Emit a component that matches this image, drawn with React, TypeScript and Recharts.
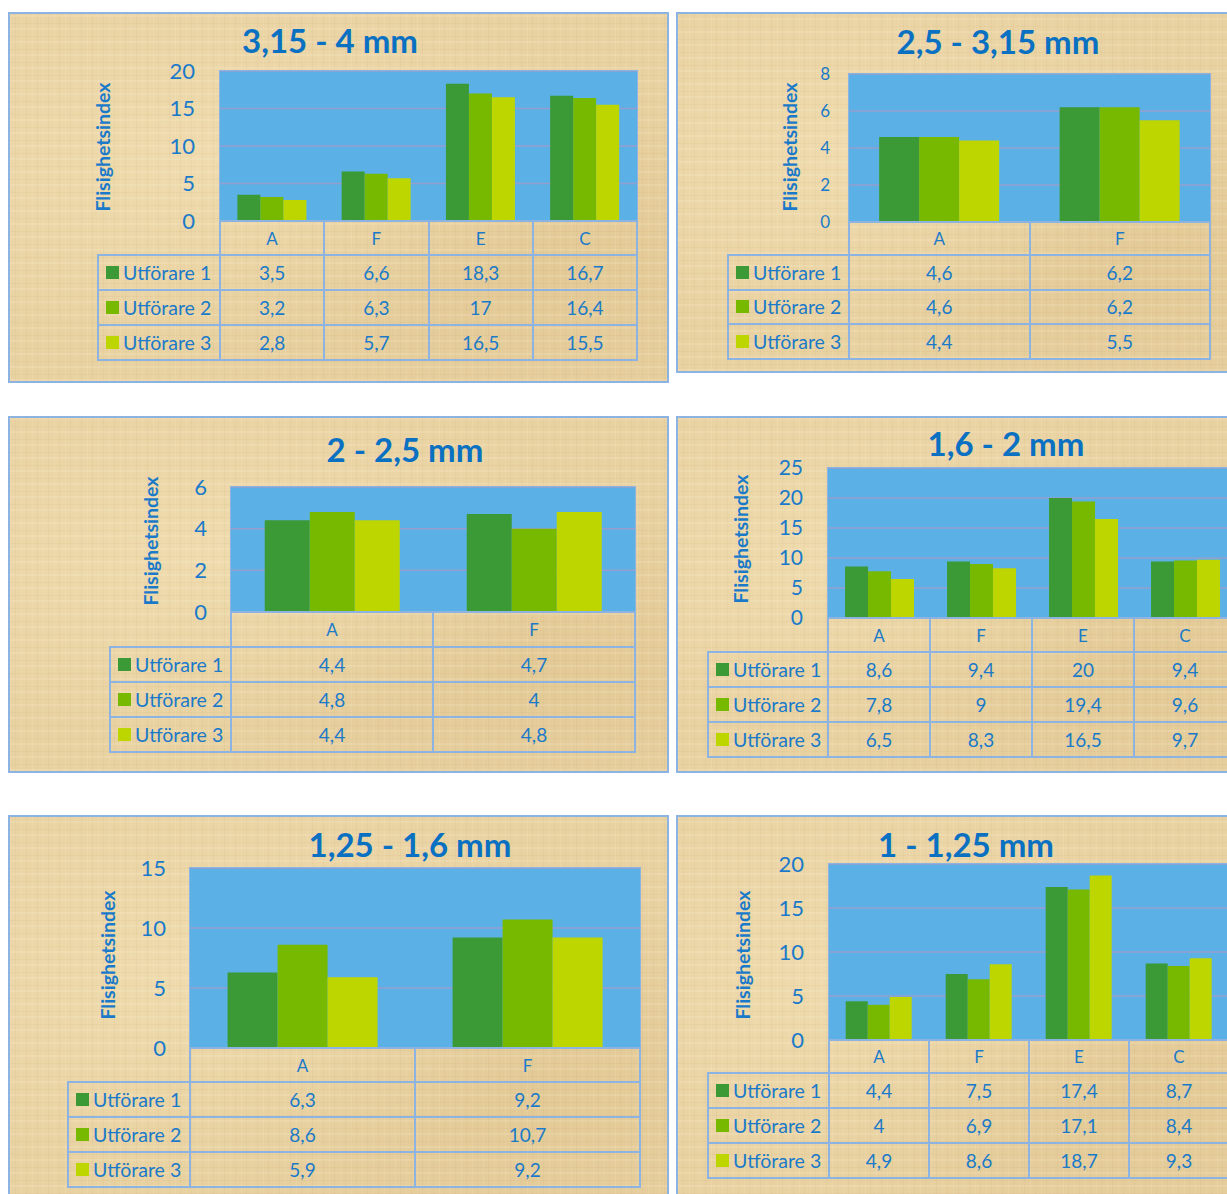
import React from "react";
import { BarChart, Bar, XAxis, YAxis, CartesianGrid } from "recharts";

// --- data -------------------------------------------------------------
const SERIES = ["Utförare 1", "Utförare 2", "Utförare 3"];

const cats1 = ["A", "F", "E", "C"];
const p1u1 = [3.5, 6.6, 18.3, 16.7];
const p1u2 = [3.2, 6.3, 17, 16.4];
const p1u3 = [2.8, 5.7, 16.5, 15.5];

const cats2 = ["A", "F"];
const p2u1 = [4.6, 6.2];
const p2u2 = [4.6, 6.2];
const p2u3 = [4.4, 5.5];

const cats3 = ["A", "F"];
const p3u1 = [4.4, 4.7];
const p3u2 = [4.8, 4];
const p3u3 = [4.4, 4.8];

const cats4 = ["A", "F", "E", "C"];
const p4u1 = [8.6, 9.4, 20, 9.4];
const p4u2 = [7.8, 9, 19.4, 9.6];
const p4u3 = [6.5, 8.3, 16.5, 9.7];

const cats5 = ["A", "F"];
const p5u1 = [6.3, 9.2];
const p5u2 = [8.6, 10.7];
const p5u3 = [5.9, 9.2];

const cats6 = ["A", "F", "E", "C"];
const p6u1 = [4.4, 7.5, 17.4, 8.7];
const p6u2 = [4, 6.9, 17.1, 8.4];
const p6u3 = [4.9, 8.6, 18.7, 9.3];

const ticks1 = [0, 5, 10, 15, 20];
const ticks2 = [0, 2, 4, 6, 8];
const ticks3 = [0, 2, 4, 6];
const ticks4 = [0, 5, 10, 15, 20, 25];
const ticks5 = [0, 5, 10, 15];
const ticks6 = [0, 5, 10, 15, 20];

// --- style ------------------------------------------------------------
const COLORS = ["#3b9a35", "#76b900", "#bed600"];
const PLOT_BG = "#5bb1e6";
const GRIDLINE = "#949fcf";
const BORDER = "#8db3e2";
const TEXT = "#1a7ac9";
const TITLE = "#0a70c2";
const FONT = "Lato, 'Open Sans', sans-serif";

const PAPER: React.CSSProperties = {
  backgroundColor: "#e9d2a2",
  backgroundImage: [
    "repeating-linear-gradient(0deg, rgba(255,248,225,0.14) 0 2px, transparent 2px 6px, rgba(150,110,50,0.05) 6px 7px, transparent 7px 13px)",
    "repeating-linear-gradient(90deg, rgba(255,248,225,0.1) 0 1px, transparent 1px 5px, rgba(150,110,50,0.05) 5px 6px, transparent 6px 11px)",
    "radial-gradient(ellipse at 30% 40%, rgba(245,228,185,0.5), transparent 60%)",
    "radial-gradient(ellipse at 80% 70%, rgba(210,180,120,0.3), transparent 55%)",
  ].join(","),
};

const fmt = (v: number) => String(v).replace(".", ",");

type Rect = { x: number; y: number; w: number; h: number };

interface PanelProps {
  frame: Rect;
  title: string;
  titleX: number;
  titleY: number;
  plot: Rect;
  tickFs: number;
  tickGap: number;
  ticks: number[];
  labelX: number;
  labelY: number;
  legX: number;
  headH: number;
  rowH: number;
  cats: string[];
  u1: number[];
  u2: number[];
  u3: number[];
}

function Panel(p: PanelProps) {
  const data = p.cats.map((c, i) => ({ cat: c, u1: p.u1[i], u2: p.u2[i], u3: p.u3[i] }));
  const yw = 60;
  const mt = 14;
  const mb = 14;
  const colW = p.plot.w / p.cats.length;
  const rows = [p.u1, p.u2, p.u3];
  const tableTop = p.plot.y + p.plot.h;

  const cellStyle = (l: number, t: number, w: number, h: number): React.CSSProperties => ({
    position: "absolute",
    left: l - 1,
    top: t - 1,
    width: w + 2,
    height: h + 2,
    border: `2px solid ${BORDER}`,
    boxSizing: "border-box",
    display: "flex",
    alignItems: "center",
    color: TEXT,
    fontFamily: FONT,
  });

  return (
    <>
      <div
        style={{
          position: "absolute",
          left: p.frame.x,
          top: p.frame.y,
          width: p.frame.w,
          height: p.frame.h,
          border: `2px solid ${BORDER}`,
          boxSizing: "border-box",
          ...PAPER,
        }}
      />
      <div
        style={{
          position: "absolute",
          left: p.titleX,
          top: p.titleY - 2,
          transform: "translate(-50%, -50%)",
          color: TITLE,
          fontFamily: FONT,
          fontWeight: 700,
          fontSize: 33,
          whiteSpace: "nowrap",
        }}
      >
        {p.title}
      </div>
      <div
        style={{
          position: "absolute",
          left: p.labelX,
          top: p.labelY,
          transform: "translate(-50%, -50%) rotate(-90deg)",
          color: TEXT,
          fontFamily: FONT,
          fontWeight: 700,
          fontSize: 19.5,
          whiteSpace: "nowrap",
        }}
      >
        Flisighetsindex
      </div>
      <div style={{ position: "absolute", left: p.plot.x - yw, top: p.plot.y - mt }}>
        <BarChart
          width={yw + p.plot.w}
          height={mt + p.plot.h + mb}
          data={data}
          margin={{ top: mt, right: 0, bottom: mb, left: 0 }}
          barGap={0}
          barCategoryGap="16.7%"
        >
          <CartesianGrid vertical={false} fill={PLOT_BG} fillOpacity={1} stroke={GRIDLINE} strokeWidth={1.5} />
          <XAxis dataKey="cat" hide />
          <YAxis
            width={yw}
            domain={[0, p.ticks[p.ticks.length - 1]]}
            ticks={p.ticks}
            interval={0}
            axisLine={false}
            tickLine={false}
            tickSize={0}
            tickMargin={p.tickGap}
            tick={{ fill: TEXT, fontSize: p.tickFs, fontFamily: FONT }}
          />
          <Bar dataKey="u1" name={SERIES[0]} fill={COLORS[0]} isAnimationActive={false} />
          <Bar dataKey="u2" name={SERIES[1]} fill={COLORS[1]} isAnimationActive={false} />
          <Bar dataKey="u3" name={SERIES[2]} fill={COLORS[2]} isAnimationActive={false} />
        </BarChart>
      </div>
      <div
        style={{
          position: "absolute",
          left: p.plot.x - 1,
          top: p.plot.y - 1,
          width: p.plot.w + 2,
          height: p.plot.h + 1,
          border: `1.5px solid ${BORDER}`,
          borderBottom: "none",
          boxSizing: "border-box",
        }}
      />
      {p.cats.map((c, i) => (
        <div
          key={"h" + c}
          style={{ ...cellStyle(p.plot.x + i * colW, tableTop, colW, p.headH), justifyContent: "center", fontSize: 17 }}
        >
          {c}
        </div>
      ))}
      {rows.map((vals, r) => {
        const t = tableTop + p.headH + r * p.rowH;
        return (
          <React.Fragment key={"r" + r}>
            <div style={{ ...cellStyle(p.legX, t, p.plot.x - p.legX, p.rowH), fontSize: 19.5, paddingLeft: 7 }}>
              <span style={{ display: "inline-block", width: 13, height: 13, background: COLORS[r], marginRight: 4 }} />
              {SERIES[r]}
            </div>
            {vals.map((v, i) => (
              <div
                key={i}
                style={{ ...cellStyle(p.plot.x + i * colW, t, colW, p.rowH), justifyContent: "center", fontSize: 19 }}
              >
                {fmt(v)}
              </div>
            ))}
          </React.Fragment>
        );
      })}
    </>
  );
}

export default function App() {
  return (
    <div
      style={{
        position: "absolute",
        left: 0,
        top: 0,
        width: 1227,
        height: 1194,
        overflow: "hidden",
        background: "#ffffff",
      }}
    >
      <Panel
        frame={{ x: 8, y: 12, w: 661, h: 371 }}
        title="3,15 - 4 mm"
        titleX={330}
        titleY={42}
        plot={{ x: 220, y: 71, w: 417, h: 150 }}
        tickFs={22}
        tickGap={25}
        ticks={ticks1}
        labelX={102}
        labelY={147}
        legX={98}
        headH={34}
        rowH={35}
        cats={cats1}
        u1={p1u1}
        u2={p1u2}
        u3={p1u3}
      />
      <Panel
        frame={{ x: 676, y: 12, w: 580, h: 361 }}
        title="2,5 - 3,15 mm"
        titleX={998}
        titleY={43}
        plot={{ x: 849, y: 74, w: 361, h: 148 }}
        tickFs={17}
        tickGap={19}
        ticks={ticks2}
        labelX={789}
        labelY={147}
        legX={728}
        headH={33}
        rowH={34.5}
        cats={cats2}
        u1={p2u1}
        u2={p2u2}
        u3={p2u3}
      />
      <Panel
        frame={{ x: 8, y: 416, w: 661, h: 357 }}
        title="2 - 2,5 mm"
        titleX={405}
        titleY={451}
        plot={{ x: 231, y: 487, w: 404, h: 125 }}
        tickFs={22}
        tickGap={24}
        ticks={ticks3}
        labelX={150}
        labelY={541}
        legX={110}
        headH={35}
        rowH={35}
        cats={cats3}
        u1={p3u1}
        u2={p3u2}
        u3={p3u3}
      />
      <Panel
        frame={{ x: 676, y: 416, w: 580, h: 357 }}
        title="1,6 - 2 mm"
        titleX={1006}
        titleY={445}
        plot={{ x: 828, y: 468, w: 408, h: 150 }}
        tickFs={21}
        tickGap={25}
        ticks={ticks4}
        labelX={740}
        labelY={539}
        legX={708}
        headH={34}
        rowH={35}
        cats={cats4}
        u1={p4u1}
        u2={p4u2}
        u3={p4u3}
      />
      <Panel
        frame={{ x: 8, y: 815, w: 661, h: 400 }}
        title="1,25 - 1,6 mm"
        titleX={410}
        titleY={846}
        plot={{ x: 190, y: 868, w: 450, h: 180 }}
        tickFs={22}
        tickGap={24}
        ticks={ticks5}
        labelX={107}
        labelY={955}
        legX={68}
        headH={34}
        rowH={35}
        cats={cats5}
        u1={p5u1}
        u2={p5u2}
        u3={p5u3}
      />
      <Panel
        frame={{ x: 676, y: 815, w: 580, h: 400 }}
        title="1 - 1,25 mm"
        titleX={966}
        titleY={846}
        plot={{ x: 829, y: 864, w: 400, h: 176 }}
        tickFs={22}
        tickGap={25}
        ticks={ticks6}
        labelX={742}
        labelY={955}
        legX={708}
        headH={33}
        rowH={35}
        cats={cats6}
        u1={p6u1}
        u2={p6u2}
        u3={p6u3}
      />
    </div>
  );
}
